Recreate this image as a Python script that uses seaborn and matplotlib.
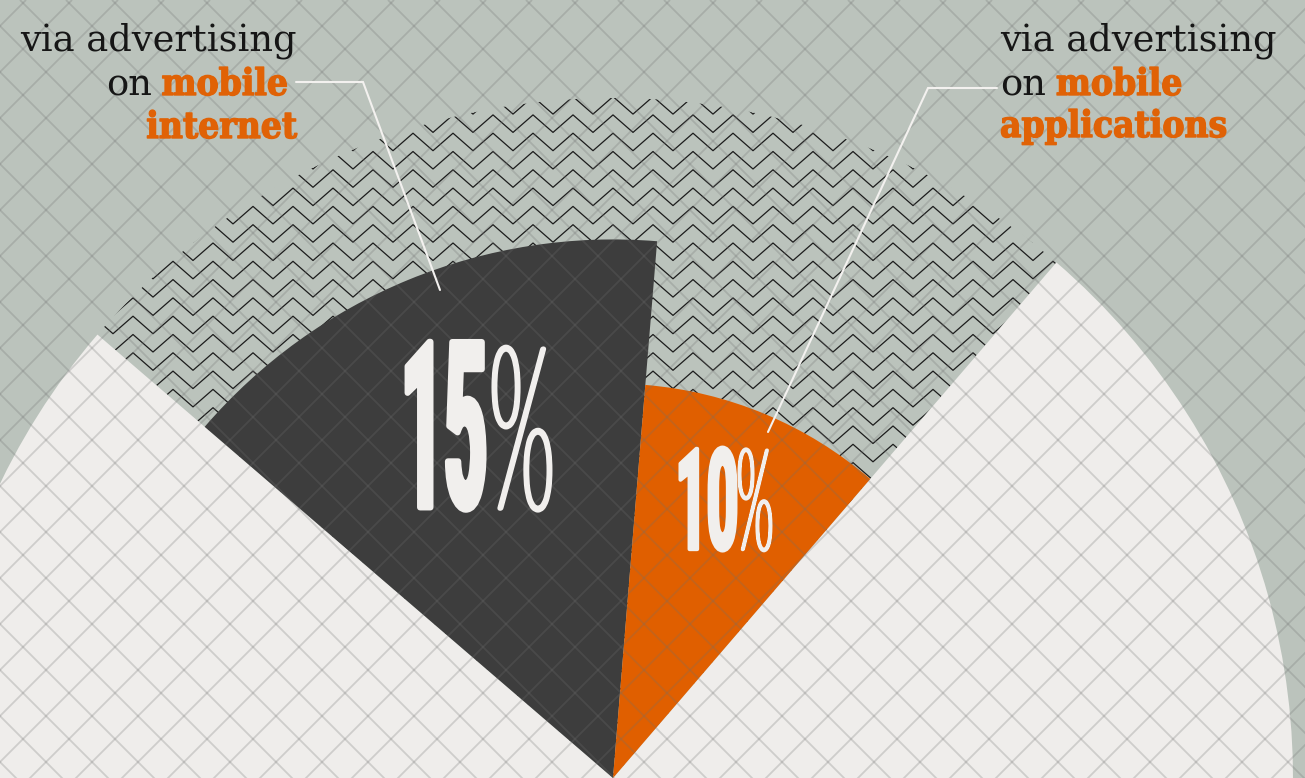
import numpy as np
import matplotlib
matplotlib.use("Agg")
import matplotlib.pyplot as plt
import seaborn as sns
from matplotlib.patches import Wedge
from matplotlib.collections import LineCollection
from matplotlib.patheffects import AbstractPathEffect, withStroke
from matplotlib.transforms import Affine2D

# ---------------- data ----------------
segments = ["mobile internet", "mobile applications"]
shares = [15, 10]            # percent
rest_share = 75              # remaining part of the pie
intro_text = "via advertising"
prefix_text = "on"
accent_words = [["mobile", "internet"], ["mobile", "applications"]]
pct_numbers = [str(s) for s in shares]
pct_sign = "%"

# ---------------- style ----------------
W, H = 1305, 778
sns.set_theme(style="white")
colors = dict(bg="#bbc3bc", light="#efedeb", seg=["#3d3d3d", "#e05f00"],
              text="#161616", accent="#e06206", lead="#f3f1ef", pct="#f1efed",
              zig="#1c1c1c", grid="#6f6f6f")
plt.rcParams["font.family"] = ["DejaVu Serif", "DejaVu Sans"]

center = (613, 778)
R = 680
radius_frac = [0.792, 0.58]
start_angle = 49.3


class FitBox(AbstractPathEffect):
    """Scale the glyph outline into a target box (pixels, incl. a uniform
    stroke), anchored at bottom-centre."""
    def __init__(self, width, height, stroke=0.0):
        super().__init__()
        self.w, self.h, self.stroke = width, height, stroke

    def draw_path(self, renderer, gc, tpath, affine, rgbFace=None):
        ext = tpath.get_extents(affine)
        cx, y0 = 0.5 * (ext.x0 + ext.x1), ext.y0
        s = self.stroke
        sx = (self.w - s) / max(ext.width, 1e-6)
        sy = (self.h - s) / max(ext.height, 1e-6)
        aff = affine + Affine2D().translate(-cx, -y0).scale(sx, sy).translate(cx, y0 + s / 2)
        gc0 = renderer.new_gc()
        gc0.copy_properties(gc)
        if s > 0 and rgbFace is not None:
            gc0.set_linewidth(s * 0.72)
            gc0.set_foreground(rgbFace, isRGBA=True)
            gc0.set_joinstyle("round")
        else:
            gc0.set_linewidth(0)
        renderer.draw_path(gc0, tpath, aff, rgbFace)
        gc0.restore()


fig = plt.figure(figsize=(W / 100, H / 100), dpi=100)
fig.patch.set_facecolor(colors["bg"])
ax = fig.add_axes([0, 0, 1, 1])
ax.set_facecolor(colors["bg"])
ax.set_xlim(0, W)
ax.set_ylim(H, 0)
ax.set_autoscale_on(False)
ax.axis("off")

# ---------------- pie geometry (visual angles, counter-clockwise) -------------
spans = [s / 100 * 360 for s in shares]
bounds = {}
th = start_angle
for i in reversed(range(len(shares))):
    bounds[i] = (th, th + spans[i])
    th += spans[i]
end_angle = th

# zig-zag hatched background sector (y axis is inverted -> negate angles)
hatch_w = Wedge(center, R, -end_angle, -start_angle, facecolor="none",
                edgecolor="none", zorder=1)
ax.add_patch(hatch_w)
zig_segs = []
xs = np.arange(-27, W + 60, 20.0)
for y0 in np.arange(60, H + 40, 18.3):
    ys = y0 + np.where(np.round((xs + 27) / 20).astype(int) % 2 == 0, 0, 17.5)
    zig_segs.append(np.column_stack([xs, ys]))
zig = LineCollection(zig_segs, colors=colors["zig"], linewidths=0.9, zorder=2)
ax.add_collection(zig)
zig.set_clip_path(hatch_w)

# remaining light part of the pie
rest = Wedge(center, R, -start_angle, 360 - end_angle,
             facecolor=colors["light"], edgecolor="none", zorder=3)
ax.add_patch(rest)

# data sectors
for i in range(len(shares)):
    a0, a1 = bounds[i]
    ax.add_patch(Wedge(center, R * radius_frac[i], -a1, -a0,
                       facecolor=colors["seg"][i], edgecolor="none", zorder=4))

# diamond grid overlay
d = 46
grid = []
for c in np.arange(-900, 1500, d):
    grid.append([(c, 0), (c + 900, 900)])      # x - y = c
for c in np.arange(-20, 2300, d):
    grid.append([(c, 0), (c - 900, 900)])      # x + y = c
ax.add_collection(LineCollection(grid, colors=colors["grid"], linewidths=1.3,
                                 alpha=0.25, zorder=5))

# leader lines
ax.plot([296, 363, 440], [82, 82, 290], color=colors["lead"], lw=1.5, zorder=6,
        solid_joinstyle="miter")
ax.plot([997, 928, 768], [88, 88, 432], color=colors["lead"], lw=1.5, zorder=6,
        solid_joinstyle="miter")

# ---------------- labels ----------------
fs = 26.5
bold_kw = dict(fontsize=fs, fontweight="bold", fontstretch="condensed",
               color=colors["accent"], zorder=7,
               path_effects=[withStroke(linewidth=1.0, foreground=colors["accent"])])
reg_kw = dict(fontsize=fs, color=colors["text"], zorder=7)

# left label (right aligned)
ax.text(297, 50, intro_text, ha="right", va="baseline", **reg_kw)
t_mob = ax.text(288, 95, accent_words[0][0], ha="right", va="baseline", **bold_kw)
ax.annotate(prefix_text, xy=(0, 0), xycoords=t_mob, xytext=(-10, 0),
            textcoords="offset pixels", ha="right", va="bottom", **reg_kw)
ax.text(297, 138, accent_words[0][1], ha="right", va="baseline", **bold_kw)

# right label (left aligned)
ax.text(1000, 50, intro_text, ha="left", va="baseline", **reg_kw)
t_on = ax.text(1000, 95, prefix_text, ha="left", va="baseline", **reg_kw)
ax.annotate(accent_words[1][0], xy=(1, 0), xycoords=t_on, xytext=(10, 0),
            textcoords="offset pixels", ha="left", va="bottom", **bold_kw)
ax.text(1000, 137, accent_words[1][1], ha="left", va="baseline", **bold_kw)

# ---------------- percentage labels ----------------
# (num cx, num w, sign cx, sign w, bottom, num h, sign h, num fs, sign fs, num stroke, sign stroke)
pct_layout = [
    (444, 82, 522, 61, 512, 174, 168, 55, 56, 6.0, 5.0),
    (707, 59, 755, 35, 552, 107, 105, 40, 32, 4.0, 3.5),
]
for i, (ncx, nw, scx, sw, bot, nh, sh, nfs, sfs, nst, sst) in enumerate(pct_layout):
    ax.text(ncx, bot, pct_numbers[i], ha="center", va="baseline", fontsize=nfs,
            family=["Roboto", "DejaVu Sans"], fontweight="bold", color=colors["pct"],
            zorder=8, path_effects=[FitBox(nw, nh, stroke=nst)])
    ax.text(scx, bot, pct_sign, ha="center", va="baseline", fontsize=sfs,
            family=["Lato", "DejaVu Sans"], fontweight="light", color=colors["pct"],
            zorder=8, path_effects=[FitBox(sw, sh, stroke=sst)])

fig.savefig("out.png", dpi=100, facecolor=fig.get_facecolor())
